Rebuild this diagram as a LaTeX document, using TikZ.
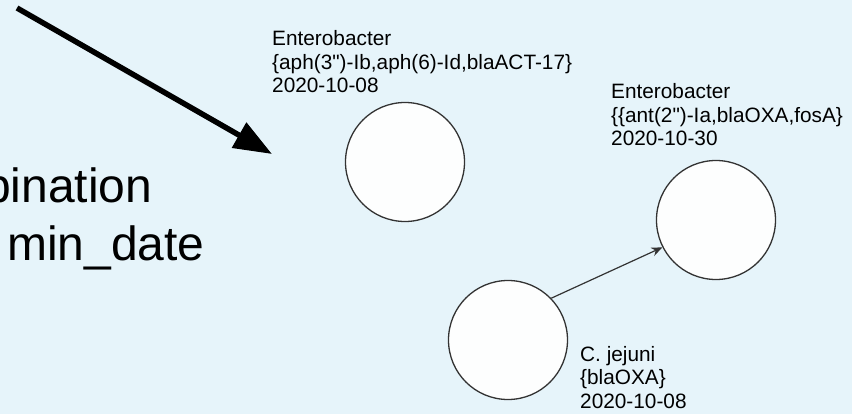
\documentclass[tikz,border=0pt]{standalone}
\usepackage{fontspec}
\setmainfont{Liberation Sans}[Ligatures=TeXOff]
\usepackage{xcolor}
\usepackage{tikz}
\usetikzlibrary{arrows.meta}
\definecolor{bg}{HTML}{E6F4FA}
\definecolor{ink}{HTML}{000000}
\definecolor{edge}{HTML}{333333}
\definecolor{disc}{HTML}{FDFEFE}
\tikzset{
  sample/.style={circle, draw=edge, fill=disc, line width=1.3pt, minimum size=119pt, inner sep=0pt},
  link/.style={draw=edge, line width=1.2pt, -{Stealth[length=11pt,width=9pt]}},
  pointer/.style={draw=ink, line width=5.5pt, -{Triangle[length=38pt,width=28pt]}},
  lab/.style={text=ink, font=\fontsize{20.8}{23.5}\selectfont, align=left, inner sep=0pt, anchor=base west},
  big/.style={text=ink, font=\fontsize{48}{57}\selectfont, inner sep=0pt, anchor=base west},
}

\begin{document}
\begin{tikzpicture}[x=1pt,y=-1pt]
  \useasboundingbox (0,0) rectangle (852,414);
  \clip (0,0) rectangle (852,414);
  \fill[bg] (0,0) rectangle (852,414);

  \coordinate (tail) at (17,8);
  \coordinate (tip) at (272,154);
  \draw[pointer] (tail) -- (tip);

  \node[big] (word1) at (-16,203) {bination};
  \node[big] (word2) at (7,261) {min\_date};

  \node[sample] (c1) at (405,162) {};
  \node[sample] (c2) at (716,220) {};
  \node[sample] (c3) at (508,340) {};
  \draw[link] (c3.44) -- (c2.207);

  \node[lab] (l1) at (272,93) {Enterobacter\\\{aph(3")-Ib,aph(6)-Id,blaACT-17\}\\2020-10-08};
  \node[lab] (l2) at (611,146) {Enterobacter\\\{\{ant(2")-Ia,blaOXA,fosA\}\\2020-10-30};
  \node[lab] (l3) at (580,408) {C. jejuni\\\{blaOXA\}\\2020-10-08};
\end{tikzpicture}
\end{document}
